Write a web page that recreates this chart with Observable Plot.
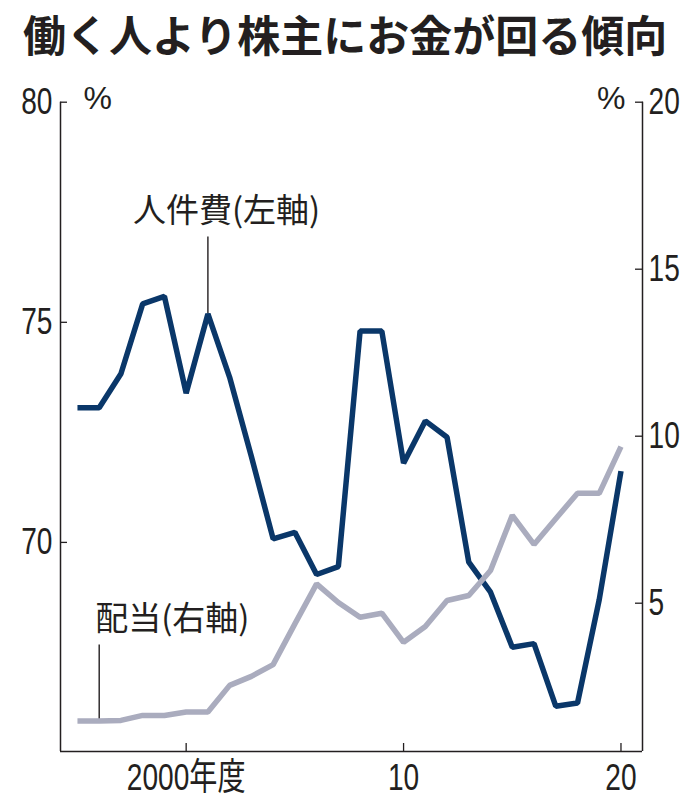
<!DOCTYPE html>
<html><head><meta charset="utf-8">
<script src="https://cdn.jsdelivr.net/npm/d3@7"></script>
<script src="https://cdn.jsdelivr.net/npm/@observablehq/plot@0.6"></script>
<style>
body{margin:0;background:#fff;width:698px;height:810px;overflow:hidden}
#title{height:70px;box-sizing:border-box;padding-left:23px;font-family:"Noto Sans CJK JP",sans-serif;font-weight:700;font-size:43px;line-height:66px;color:#231f20;white-space:nowrap}
#chart svg{display:block}
</style></head><body>
<div id="title">働く人より株主にお金が回る傾向</div>
<div id="chart"></div>
<script>
// ---- data (fiscal years) ----
const years = [1995,1996,1997,1998,1999,2000,2001,2002,2003,2004,2005,2006,2007,2008,2009,2010,2011,2012,2013,2014,2015,2016,2017,2018,2019,2020];
// 人件費 (left axis, %)
const laborShare = [73.06,73.06,73.83,75.42,75.59,73.39,75.19,73.75,71.95,70.08,70.23,69.27,69.45,74.8,74.8,71.8,72.76,72.39,69.55,68.87,67.62,67.7,66.28,66.35,68.7,71.62];
// 配当 (right axis, %)
const dividendShare = [1.47,1.47,1.49,1.64,1.64,1.74,1.74,2.54,2.81,3.16,4.38,5.58,5.02,4.58,4.7,3.83,4.3,5.08,5.23,5.98,7.63,6.76,7.53,8.29,8.29,9.69];
const leftTicks = [70,75,80];
const rightTicks = [5,10,15,20];
const xTicks = [2000,2010,2020];
const xTickLabels = ["2000年度","10","20"];
const laborLabel = "人件費(左軸)";
const dividendLabel = "配当(右軸)";
const laborLabelYear = 2001;
const dividendLabelYear = 1996;

// ---- scales ----
const xDomain = [1994.22, 2020.99];
const leftDomain = [65.25, 80];
const rightDomain = [0.56, 20];
const r2l = d3.scaleLinear(rightDomain, leftDomain);

const rows = years.map((year, i) => ({year, labor: laborShare[i], dividend: dividendShare[i], dividendL: r2l(dividendShare[i])}));
const laborPt = rows.filter(d => d.year === laborLabelYear);
const dividendPt = rows.filter(d => d.year === dividendLabelYear);

const ink = "#231f20";
const navy = "#0a3769";
const gray = "#aaacbe";
const numFont = "'Liberation Sans','Noto Sans CJK JP',sans-serif";
const cjk = "'Noto Sans CJK JP',sans-serif";

const chart = Plot.plot({
  width: 698,
  height: 740,
  marginLeft: 60,
  marginRight: 56,
  marginTop: 31.7,
  marginBottom: 59,
  style: {color: ink, background: "#fff", fontFamily: numFont, fontSize: "37px"},
  x: {domain: xDomain, axis: null},
  y: {domain: leftDomain, axis: null},
  marks: [
    Plot.ruleY([leftDomain[0]], {stroke: ink, strokeWidth: 1.5}),
    Plot.ruleX(xDomain, {stroke: ink, strokeWidth: 1.5}),
    Plot.axisY(leftTicks, {anchor: "left", tickSize: -7, tickPadding: 15, fontSize: 37, fontFamily: numFont, strokeWidth: 1.3, label: null}),
    Plot.axisY(rightTicks.map(r2l), {anchor: "right", tickSize: -8, tickPadding: 14, fontSize: 37, fontFamily: numFont, strokeWidth: 1.3, tickFormat: d => String(Math.round(r2l.invert(d))), label: null}),
    Plot.axisX(xTicks, {anchor: "bottom", tickSize: -8, tickPadding: 20, fontSize: 37, fontFamily: numFont, strokeWidth: 1.3, tickFormat: d => xTickLabels[xTicks.indexOf(d)], label: null}),
    Plot.text(["%"], {frameAnchor: "top-left", text: d => d, textAnchor: "start", lineAnchor: "bottom", dx: 23, dy: 6.5, fontSize: 32, fontFamily: "'Liberation Sans',sans-serif", ariaLabel: "unit"}),
    Plot.text(["%"], {frameAnchor: "top-right", text: d => d, textAnchor: "end", lineAnchor: "bottom", dx: -17, dy: 6.5, fontSize: 32, fontFamily: "'Liberation Sans',sans-serif", ariaLabel: "unit"}),
    Plot.ruleX(laborPt, {x: "year", y1: "labor", y2: "labor", insetBottom: 77, stroke: ink, strokeWidth: 1.4}),
    Plot.ruleX(dividendPt, {x: "year", y1: "dividendL", y2: "dividendL", insetBottom: 76, stroke: ink, strokeWidth: 1.4}),
    Plot.line(rows, {x: "year", y: "labor", stroke: navy, strokeWidth: 5.5, strokeLinejoin: "miter", strokeLinecap: "butt"}),
    Plot.line(rows, {x: "year", y: "dividendL", stroke: gray, strokeWidth: 5.5, strokeLinejoin: "miter", strokeLinecap: "butt"}),
    Plot.text(laborPt, {x: "year", y: "labor", text: () => laborLabel, textAnchor: "start", lineAnchor: "bottom", dx: -75, dy: -92, fontSize: 33, fontFamily: cjk, fill: ink, ariaLabel: "series label"}),
    Plot.text(dividendPt, {x: "year", y: "dividendL", text: () => dividendLabel, textAnchor: "start", lineAnchor: "bottom", dx: -4, dy: -91, fontSize: 33, fontFamily: cjk, fill: ink, ariaLabel: "series label"})
  ]
});
// condensed look of the newspaper typeface for tick labels
d3.select(chart).selectAll('g[aria-label="x-axis tick label"] text, g[aria-label="y-axis tick label"] text').each(function() {
  const t = this.getAttribute("transform") || "";
  this.setAttribute("transform", t + " scale(0.76,1)");
});
d3.select(chart).selectAll('g[aria-label="series label"] text').style("letter-spacing", "1.2px");
document.getElementById("chart").appendChild(chart);
</script>
</body></html>
